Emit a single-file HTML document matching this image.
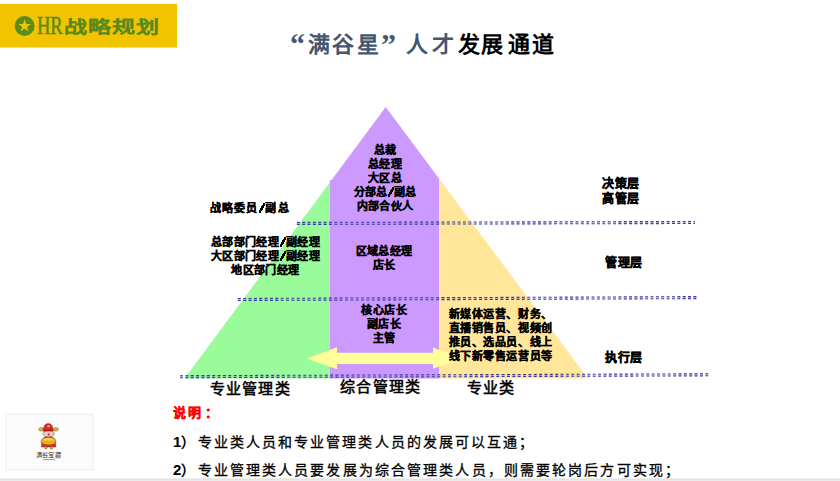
<!DOCTYPE html>
<html lang="zh-CN"><head><meta charset="utf-8">
<style>
html,body{margin:0;padding:0;background:#fff;}
body{width:840px;height:481px;position:relative;overflow:hidden;font-family:"Liberation Sans",sans-serif;}
.t{position:absolute;white-space:nowrap;line-height:14px;font-weight:bold;color:#000;}
.s11{font-size:11px;-webkit-text-stroke:0.3px #000;}
.s12{font-size:12px;-webkit-text-stroke:0.4px #000;}
.sl{display:inline-block;width:6px;height:10px;margin:0 0.5px;vertical-align:-1px;background:linear-gradient(to bottom right,transparent 38%,#000 38%,#000 62%,transparent 62%);}
.c{text-align:center;}
</style></head>
<body>
<svg width="840" height="481" style="position:absolute;left:0;top:0">
  <defs>
    <clipPath id="tri"><polygon points="184.5,378.5 385.7,107.1 588,378.5"/></clipPath>
  </defs>
  <!-- banner -->
  <rect x="0" y="4" width="177" height="43.5" fill="#f2c400"/>
  <circle cx="24.6" cy="26" r="10" fill="#5b8c1f"/>
  <polygon fill="#f2c400" points="24.6,19.5 26.2,24 30.8,24 27.1,26.9 28.5,31.4 24.6,28.6 20.7,31.4 22.1,26.9 18.4,24 23,24"/>
  <!-- pyramid -->
  <g clip-path="url(#tri)">
    <rect x="0" y="100" width="330" height="279" fill="#99fb99"/>
    <rect x="330" y="100" width="109" height="279" fill="#cc99ff"/>
    <rect x="439" y="100" width="300" height="279" fill="#ffe699"/>
  </g>
  <rect x="330" y="180" width="3" height="4" fill="#cc99ff"/>
  <!-- arrow -->
  <polygon fill="#ffff99" points="306.6,358.4 337,347.2 337,352.8 433,352.8 433,347.6 462,358.2 433,368.7 433,364 337,364 337,369.2"/>
  <!-- dotted lines -->
  <g stroke="#3a3aa0" stroke-width="1.1" stroke-dasharray="3 2.36" fill="none">
    <line x1="296.8" y1="222.4" x2="695" y2="221.5"/>
    <line x1="296.8" y1="224.4" x2="695" y2="223.5"/>
    <line x1="296.8" y1="223.4" x2="695" y2="222.5" stroke="#8080c8" stroke-opacity="0.55"/>
    <line x1="237.8" y1="298.5" x2="698" y2="296.6"/>
    <line x1="237.8" y1="300.5" x2="698" y2="298.6"/>
    <line x1="237.8" y1="299.5" x2="698" y2="297.6" stroke="#8080c8" stroke-opacity="0.55"/>
    <line x1="180" y1="375.7" x2="710" y2="373.8"/>
    <line x1="180" y1="377.7" x2="710" y2="375.8"/>
    <line x1="180" y1="376.7" x2="710" y2="374.8" stroke="#8080c8" stroke-opacity="0.55"/>
  </g>
  <!-- bottom band -->
  <rect x="0" y="478.6" width="840" height="2.4" fill="#ebebeb"/><rect x="0" y="478.6" width="840" height="0.9" fill="#dedede"/>
  <!-- logo box -->
  <rect x="6" y="414.2" width="87" height="55.6" fill="#fcfcfc" stroke="#eeeeee" stroke-width="1"/>
  <g>
    <ellipse cx="41.2" cy="429.3" rx="2.3" ry="1.8" fill="#f0b21c" stroke="#333" stroke-width="0.4"/>
    <ellipse cx="55.9" cy="429.3" rx="2.4" ry="1.8" fill="#f0b21c" stroke="#333" stroke-width="0.4"/>
    <path d="M43.2,431.2 Q43.2,423.5 48.2,423.5 Q53.2,423.5 53.2,431.2 Z" fill="#e3262a" stroke="#333" stroke-width="0.4"/>
    <rect x="43.2" y="429.6" width="10" height="1.6" fill="#b81c20"/>
    <ellipse cx="48.6" cy="426.2" rx="1.4" ry="1" fill="#f5c242"/>
    <path d="M41.5,447 Q41,436 48.5,436 Q56,436 55.9,447 Z" fill="#e3262a" stroke="#333" stroke-width="0.4"/>
    <ellipse cx="48.6" cy="433.9" rx="5.7" ry="3" fill="#f7c9b8" stroke="#333" stroke-width="0.4"/>
    <ellipse cx="48.7" cy="434.6" rx="1.2" ry="1" fill="#e3262a"/>
    <path d="M41,441.5 Q41,437.2 48.5,437.2 Q56,437.2 56,441.5 Q56,444.9 48.5,444.9 Q41,444.9 41,441.5 Z" fill="#f5a623" stroke="#333" stroke-width="0.4"/>
    <path d="M42.5,440.5 Q43.5,438 48.5,438 Q53.5,438 54.5,440.5 Z" fill="#fcd04c"/>
    <rect x="44.5" y="446.6" width="2.8" height="2.4" rx="1" fill="#f5a623" stroke="#333" stroke-width="0.3"/>
    <rect x="50" y="446.6" width="2.8" height="2.4" rx="1" fill="#f5a623" stroke="#333" stroke-width="0.3"/>
    <rect x="43" y="459.1" width="12" height="1" fill="#9a9a9a"/>
  </g>
</svg>

<!-- banner text -->
<div class="t" style="left:36.5px;top:11.2px;font-family:'Liberation Serif',serif;font-weight:normal;font-size:25px;line-height:30px;color:#5a8a1c;transform-origin:0 0;transform:scaleX(0.74);-webkit-text-stroke:0.55px #5a8a1c;">HR</div>
<div class="t" style="left:64px;top:18.5px;font-size:23px;line-height:23px;letter-spacing:1px;color:#5a8a1c;transform-origin:0 0;transform:scaleY(0.72);-webkit-text-stroke:0.1px #5a8a1c;">战略规划</div>

<!-- title -->
<div style="position:absolute;left:0;top:0;color:#45566f;font-weight:bold;font-size:22px;line-height:26px;white-space:nowrap;">
<span style="position:absolute;left:290px;top:29px;font-family:'Liberation Serif',serif;font-size:30px;line-height:30px;">“</span>
<span style="position:absolute;left:308px;top:32px;">满</span>
<span style="position:absolute;left:332px;top:32px;">谷</span>
<span style="position:absolute;left:357px;top:32px;">星</span>
<span style="position:absolute;left:381px;top:29px;font-family:'Liberation Serif',serif;font-size:30px;line-height:30px;">”</span>
<span style="position:absolute;left:406px;top:32px;">人</span>
<span style="position:absolute;left:432px;top:32px;">才</span>
<span style="position:absolute;left:458px;top:32px;color:#000">发</span>
<span style="position:absolute;left:481px;top:32px;color:#000">展</span>
<span style="position:absolute;left:508px;top:32px;color:#000">通</span>
<span style="position:absolute;left:532px;top:32px;color:#000">道</span>
</div>

<!-- apex text -->
<div class="t s11 c" style="left:335px;width:100px;top:142.7px;letter-spacing:0.1px;">总裁<br>总经理<br>大区总<br>分部总<span class="sl"></span>副总<br>内部合伙人</div>

<!-- left texts -->
<div class="t s11" style="left:210px;top:200.7px;letter-spacing:1.1px;">战略委员<span class="sl"></span>副总</div>
<div class="t s11 c" style="left:205px;width:121px;top:234.5px;letter-spacing:0.35px;">总部部门经理<span class="sl"></span>副经理<br>大区部门经理<span class="sl"></span>副经理<br>地区部门经理</div>

<!-- middle texts -->
<div class="t s11 c" style="left:334px;width:100px;top:243.7px;letter-spacing:0.1px;">区域总经理<br>店长</div>
<div class="t s11 c" style="left:334px;width:100px;top:303px;letter-spacing:0.5px;">核心店长<br>副店长<br>主管</div>

<!-- right block -->
<div class="t s11" style="left:448.5px;top:306.5px;letter-spacing:0.6px;">新媒体运营、财务、<br>直播销售员、视频创<br>推员、选品员、线上<br>线下新零售运营员等</div>

<!-- layer labels -->
<div class="t s12" style="left:602px;top:176.5px;line-height:15px;letter-spacing:0.5px;">决策层<br>高管层</div>
<div class="t s12" style="left:605px;top:255.5px;letter-spacing:0.5px;">管理层</div>
<div class="t s12" style="left:605px;top:350.5px;letter-spacing:0.5px;">执行层</div>

<!-- bottom category labels -->
<div class="t" style="left:209.8px;top:378.7px;font-size:15px;line-height:20px;letter-spacing:1.2px;font-weight:500;-webkit-text-stroke:0.55px #000;">专业管理类</div>
<div class="t" style="left:340px;top:376.7px;font-size:15px;line-height:20px;letter-spacing:1.3px;font-weight:500;-webkit-text-stroke:0.55px #000;">综合管理类</div>
<div class="t" style="left:466.5px;top:377.7px;font-size:15px;line-height:20px;letter-spacing:1.4px;font-weight:500;-webkit-text-stroke:0.55px #000;">专业类</div>

<!-- logo text -->
<div class="t" style="left:36px;top:450.5px;font-size:6.2px;line-height:8px;letter-spacing:0.2px;color:#333;font-weight:500;">满谷宝藏</div>

<!-- notes -->
<div class="t" style="left:173px;top:403.5px;font-size:13px;line-height:18px;letter-spacing:2.1px;color:#f00;-webkit-text-stroke:0.3px #f00;">说明<span style="margin-left:1.5px">：</span></div>
<div class="t" style="left:173px;top:432.5px;font-size:14px;line-height:18px;letter-spacing:2.1px;font-weight:500;-webkit-text-stroke:0.3px #000;"><span style="display:inline-block;width:24.5px;letter-spacing:0;font-size:15px;font-weight:bold;-webkit-text-stroke:0;">1<span style="font-size:14px">）</span></span>专业类人员和专业管理类人员的发展可以互通；</div>
<div class="t" style="left:173px;top:461px;font-size:14px;line-height:18px;letter-spacing:2.12px;font-weight:500;-webkit-text-stroke:0.3px #000;"><span style="display:inline-block;width:24.5px;letter-spacing:0;font-size:15px;font-weight:bold;-webkit-text-stroke:0;">2<span style="font-size:14px">）</span></span>专业管理类人员要发展为综合管理类人员，则需要轮岗后方可实现；</div>

</body></html>
